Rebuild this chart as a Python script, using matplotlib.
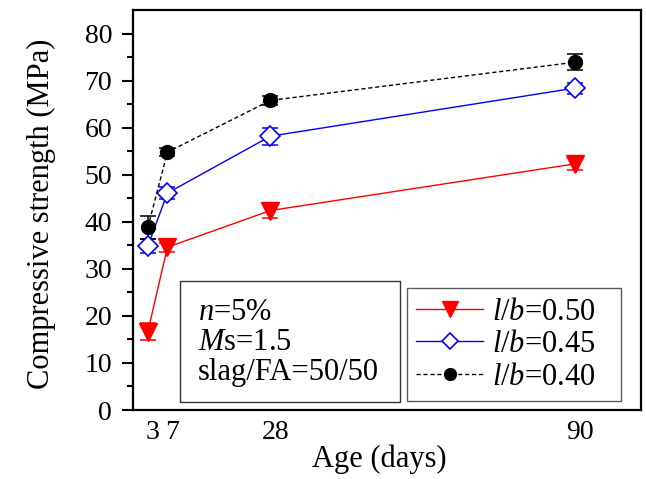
import matplotlib
matplotlib.use("Agg")
import matplotlib.pyplot as plt
import matplotlib.transforms as mtransforms
from matplotlib.patches import Rectangle

plt.rcParams['font.family'] = ['Liberation Serif', 'DejaVu Serif']
plt.rcParams['mathtext.fontset'] = 'custom'
plt.rcParams['mathtext.rm'] = 'Liberation Serif'
plt.rcParams['mathtext.it'] = 'Liberation Serif:italic'

# Curing age (days)
ages = [3, 7, 28, 90]
age_labels = ['3', '7', '28', '90']

# Compressive strength (MPa) and standard deviations per l/b ratio
strength_050 = [16.6, 34.6, 42.4, 52.3]
err_050 = [1.8, 1.0, 1.5, 1.2]
strength_045 = [34.8, 46.1, 58.2, 68.4]
err_045 = [1.5, 1.2, 1.8, 1.2]
strength_040 = [38.8, 54.8, 65.8, 73.9]
err_040 = [2.5, 0.9, 1.0, 1.7]

fig = plt.figure(figsize=(6.46, 4.79), dpi=100)
ax = fig.add_axes([0.206, 0.144, 0.786, 0.835])

series = [
    (strength_050, err_050, r'$l/b$=0.50',
     dict(color='red', lw=1.0, ls='-', marker='v', ms=13, mfc='red', mec='red')),
    (strength_045, err_045, r'$l/b$=0.45',
     dict(color='blue', lw=1.0, ls='-', marker='D', ms=10, mfc='white',
          mec='blue', mew=1.2)),
    (strength_040, err_040, r'$l/b$=0.40',
     dict(color='black', lw=1.0, ls=(0, (3, 2)), marker='o', ms=10,
          mfc='black', mec='black')),
]

handles = []
for vals, errs, lab, style in series:
    ax.errorbar(ages, vals, yerr=errs, fmt='none', ecolor=style['color'],
                elinewidth=1.1, capsize=6, capthick=1.1, zorder=2)
    line, = ax.plot(ages, vals, label=lab, zorder=3, **style)
    handles.append(line)

ax.set_xlim(0, 103.5)
ax.set_ylim(0, 85)
ax.set_xticks(ages)
ax.set_xticklabels(age_labels)
ax.set_yticks(range(0, 81, 10))
ax.set_yticks(range(5, 81, 10), minor=True)
ax.tick_params(axis='y', which='major', direction='out', length=8, width=1.5,
               labelsize=20, pad=7)
ax.tick_params(axis='y', which='minor', direction='out', length=4, width=1.5)
ax.tick_params(axis='x', which='major', length=0, labelsize=20, pad=7)
for sp in ax.spines.values():
    sp.set_linewidth(1.6)

# nudge the age labels slightly to the right
shift = mtransforms.ScaledTranslation(5 / 100, 0, fig.dpi_scale_trans)
for lbl in ax.get_xticklabels():
    lbl.set_transform(lbl.get_transform() + shift)

ax.set_xlabel('Age (days)', fontsize=22, labelpad=0)
ax.xaxis.set_label_coords(0.484, -0.085)
ax.set_ylabel('Compressive strength (MPa)', fontsize=22)
ax.yaxis.set_label_coords(-0.152, 0.49)

leg = ax.legend(handles=handles, loc='lower left',
                bbox_to_anchor=(0.539, 0.0225, 0.422, 0.3), mode='expand',
                fontsize=22, frameon=True, fancybox=False, edgecolor='#333333',
                handlelength=2.2, handletextpad=0.3, borderpad=0.3,
                labelspacing=0.12, borderaxespad=0.0, markerscale=0.85)
leg.get_frame().set_linewidth(1.0)

# Mix parameters box
ax.add_patch(Rectangle((0.0925, 0.02), 0.4335, 0.3025, transform=ax.transAxes,
                       fc='white', ec='#333333', lw=1.0, zorder=4))
ax.text(0.128, 0.168, '$\\it{n}$=5%\n$\\it{M}$s=1.5\nslag/FA=50/50',
        transform=ax.transAxes, fontsize=22, va='center', ha='left',
        linespacing=1.05, zorder=5)

fig.savefig('out.png', dpi=100)
